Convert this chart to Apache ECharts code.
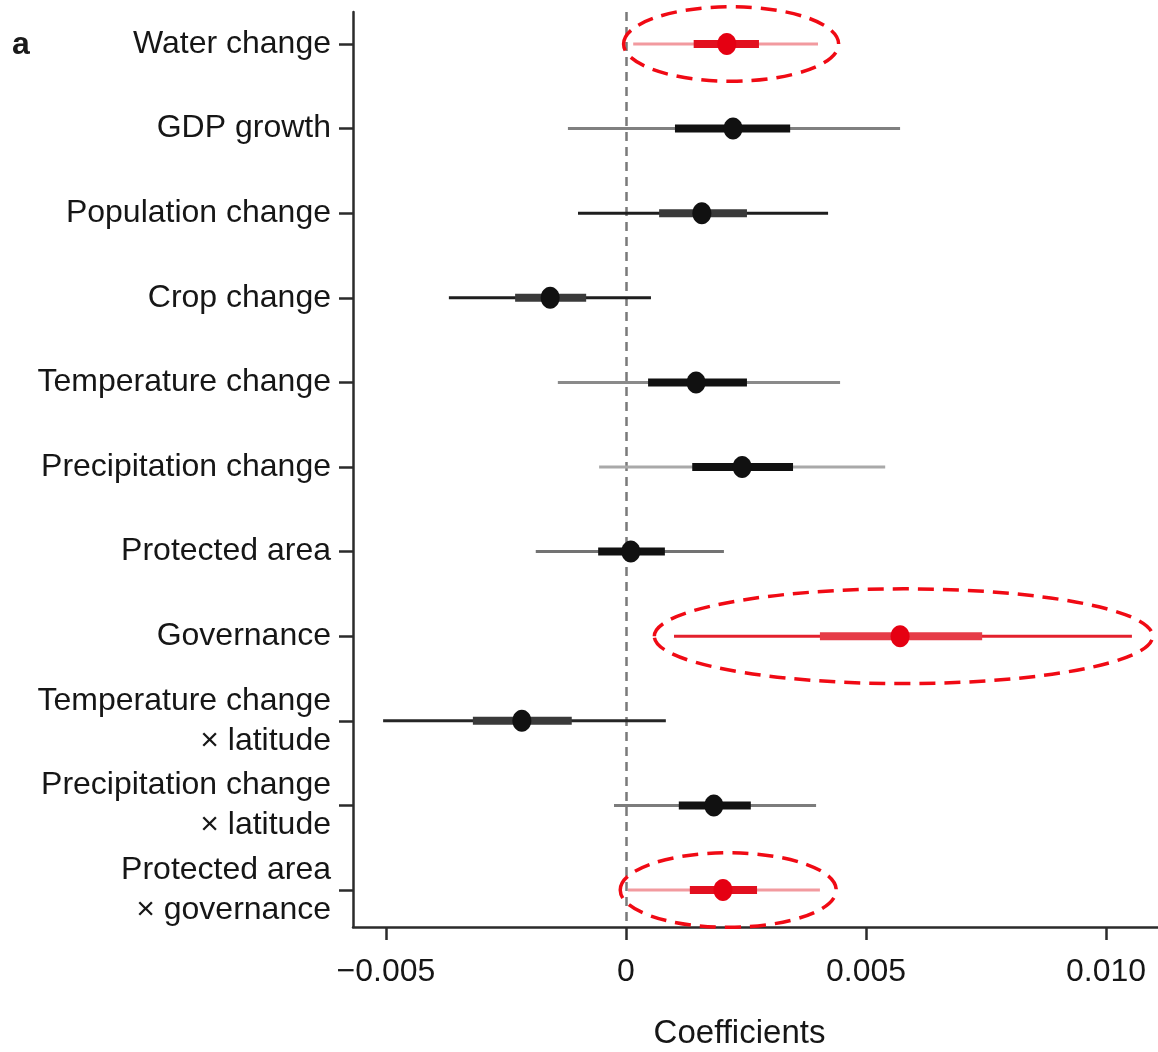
<!DOCTYPE html>
<html>
<head>
<meta charset="utf-8">
<script src="https://cdn.jsdelivr.net/npm/echarts@6/dist/echarts.min.js"></script>
<style>
html,body{margin:0;padding:0;background:#fff;}
#chart{width:1158px;height:1052px;}
</style>
</head>
<body>
<div id="chart"></div>
<script>
// ---- data (top row first) ----
var categories = ['Water change','GDP growth','Population change','Crop change','Temperature change','Precipitation change','Protected area','Governance','Temperature change\n\u00d7 latitude','Precipitation change\n\u00d7 latitude','Protected area\n\u00d7 governance'];
var estimate  = [0.00210, 0.00223, 0.00158, -0.00158, 0.00146, 0.00242, 0.00010, 0.00571, -0.00217, 0.00183, 0.00202];
var ci95Low   = [0.00015, -0.00121, -0.00100, -0.00369, -0.00142, -0.00056, -0.00188, 0.00100, -0.00506, -0.00025, 0.00004];
var ci95High  = [0.00400, 0.00571, 0.00421, 0.00052, 0.00446, 0.00540, 0.00204, 0.01054, 0.00083, 0.00396, 0.00404];
var ci50Low   = [0.00141, 0.00102, 0.00069, -0.00231, 0.00046, 0.00138, -0.00058, 0.00404, -0.00319, 0.00110, 0.00133];
var ci50High  = [0.00277, 0.00342, 0.00252, -0.00083, 0.00252, 0.00348, 0.00081, 0.00742, -0.00113, 0.00260, 0.00273];
var xTickValues = [-0.005, 0, 0.005, 0.010];
var xTickLabels = ['\u22120.005', '0', '0.005', '0.010'];
// highlight rings (annotation): row, centre, half-width (coef units), half-height (rows)
var ringRow        = [0, 7, 10];
var ringCenter     = [0.00219, 0.00578, 0.00213];
var ringHalfWidth  = [0.00224, 0.00519, 0.00225];
var ringHalfHeight = [0.44, 0.56, 0.44];

// ---- styles ----
var outerColor = ['#f29a9f','#808080','#1e1e1e','#1e1e1e','#8a8a8a','#a9a9a9','#737373','#e3202d','#262626','#7c7c7c','#f29a9f'];
var innerColor = ['#e2101f','#111111','#3a3a3a','#3a3a3a','#111111','#111111','#111111','#e63c48','#3a3a3a','#111111','#e2101f'];
var pointColor = ['#e50012','#111111','#111111','#111111','#111111','#111111','#111111','#e50012','#111111','#111111','#e50012'];

var rows = categories.map(function(_, i){ return [i, ci95Low[i], ci95High[i], ci50Low[i], ci50High[i], estimate[i]]; });
var rings = ringRow.map(function(r, i){ return [r, ringCenter[i], ringHalfWidth[i], ringHalfHeight[i]]; });
var rowTicks = categories.map(function(_, i){ return i; });

var FONT = '"Liberation Sans", Arial, Helvetica, sans-serif';
var TXT = '#161616';
var chart = echarts.init(document.getElementById('chart'), null, {renderer:'canvas'});

chart.setOption({
  animation: false,
  backgroundColor: '#ffffff',
  grid: {left: 353, right: 0, top: 12, bottom: 125, containLabel: false, outerBoundsMode: 'none'},
  xAxis: {
    type: 'value',
    min: -0.0056875,
    max: 0.0110833,
    splitLine: {show: false},
    axisLine: {show: true, onZero: false, lineStyle: {color: '#2b2b2b', width: 2.5}},
    axisTick: {show: true, customValues: xTickValues, length: 13, lineStyle: {color: '#2b2b2b', width: 2.5}},
    axisLabel: {
      customValues: xTickValues, margin: 29,
      fontSize: 32, color: TXT, fontFamily: FONT,
      formatter: function(v){
        var best = 0;
        for (var k = 0; k < xTickValues.length; k++) if (Math.abs(xTickValues[k]-v) < Math.abs(xTickValues[best]-v)) best = k;
        return xTickLabels[best];
      }
    },
    name: 'Coefficients',
    nameLocation: 'middle',
    nameGap: 90,
    nameTextStyle: {fontSize: 33, color: TXT, fontFamily: FONT, padding: [0, 32, 0, 0]}
  },
  yAxis: {
    type: 'value',
    inverse: true,
    min: -0.378,
    max: 10.437,
    splitLine: {show: false},
    axisLine: {show: true, onZero: false, lineStyle: {color: '#2b2b2b', width: 2.5}},
    axisTick: {show: true, customValues: rowTicks, length: 14, lineStyle: {color: '#2b2b2b', width: 2.5}},
    axisLabel: {
      customValues: rowTicks, margin: 22,
      fontSize: 32, lineHeight: 40, color: TXT, fontFamily: FONT, align: 'right',
      formatter: function(v){ return categories[Math.round(v)] || ''; }
    }
  },
  graphic: [{
    type: 'text', left: 12, top: 29,
    style: {text: 'a', font: 'bold 32px ' + FONT, fill: '#1a1a1a'}
  }],
  series: [{
    type: 'custom',
    name: 'Coefficients',
    data: rows,
    encode: {x: [1, 2, 3, 4, 5], y: 0},
    z: 3,
    renderItem: function(params, api){
      var i = params.dataIndex;
      var y = api.value(0);
      var a = api.coord([api.value(1), y]);
      var b = api.coord([api.value(2), y]);
      var c = api.coord([api.value(3), y]);
      var d = api.coord([api.value(4), y]);
      var p = api.coord([api.value(5), y]);
      return {type: 'group', children: [
        {type: 'line', shape: {x1: a[0], y1: a[1], x2: b[0], y2: b[1]}, style: {stroke: outerColor[i], lineWidth: 3}},
        {type: 'line', shape: {x1: c[0], y1: c[1], x2: d[0], y2: d[1]}, style: {stroke: innerColor[i], lineWidth: 8}},
        {type: 'ellipse', shape: {cx: p[0], cy: p[1], rx: 9.5, ry: 11}, style: {fill: pointColor[i]}}
      ]};
    },
    markLine: {
      silent: true, symbol: 'none', z: 1,
      label: {show: false},
      lineStyle: {color: '#7a7a7a', width: 2.5, type: [9, 6]},
      data: [{xAxis: 0}]
    }
  }, {
    type: 'custom',
    name: 'highlight',
    data: rings,
    encode: {x: 1, y: 0},
    z: 5,
    silent: true,
    renderItem: function(params, api){
      var ctr = api.coord([api.value(1), api.value(0)]);
      var sz = api.size([api.value(2), api.value(3)]);
      return {type: 'ellipse', shape: {cx: ctr[0], cy: ctr[1], rx: sz[0], ry: sz[1]},
        style: {fill: 'none', stroke: '#f00a14', lineWidth: 3.5, lineDash: [16, 9]}};
    }
  }]
});
</script>
</body>
</html>
